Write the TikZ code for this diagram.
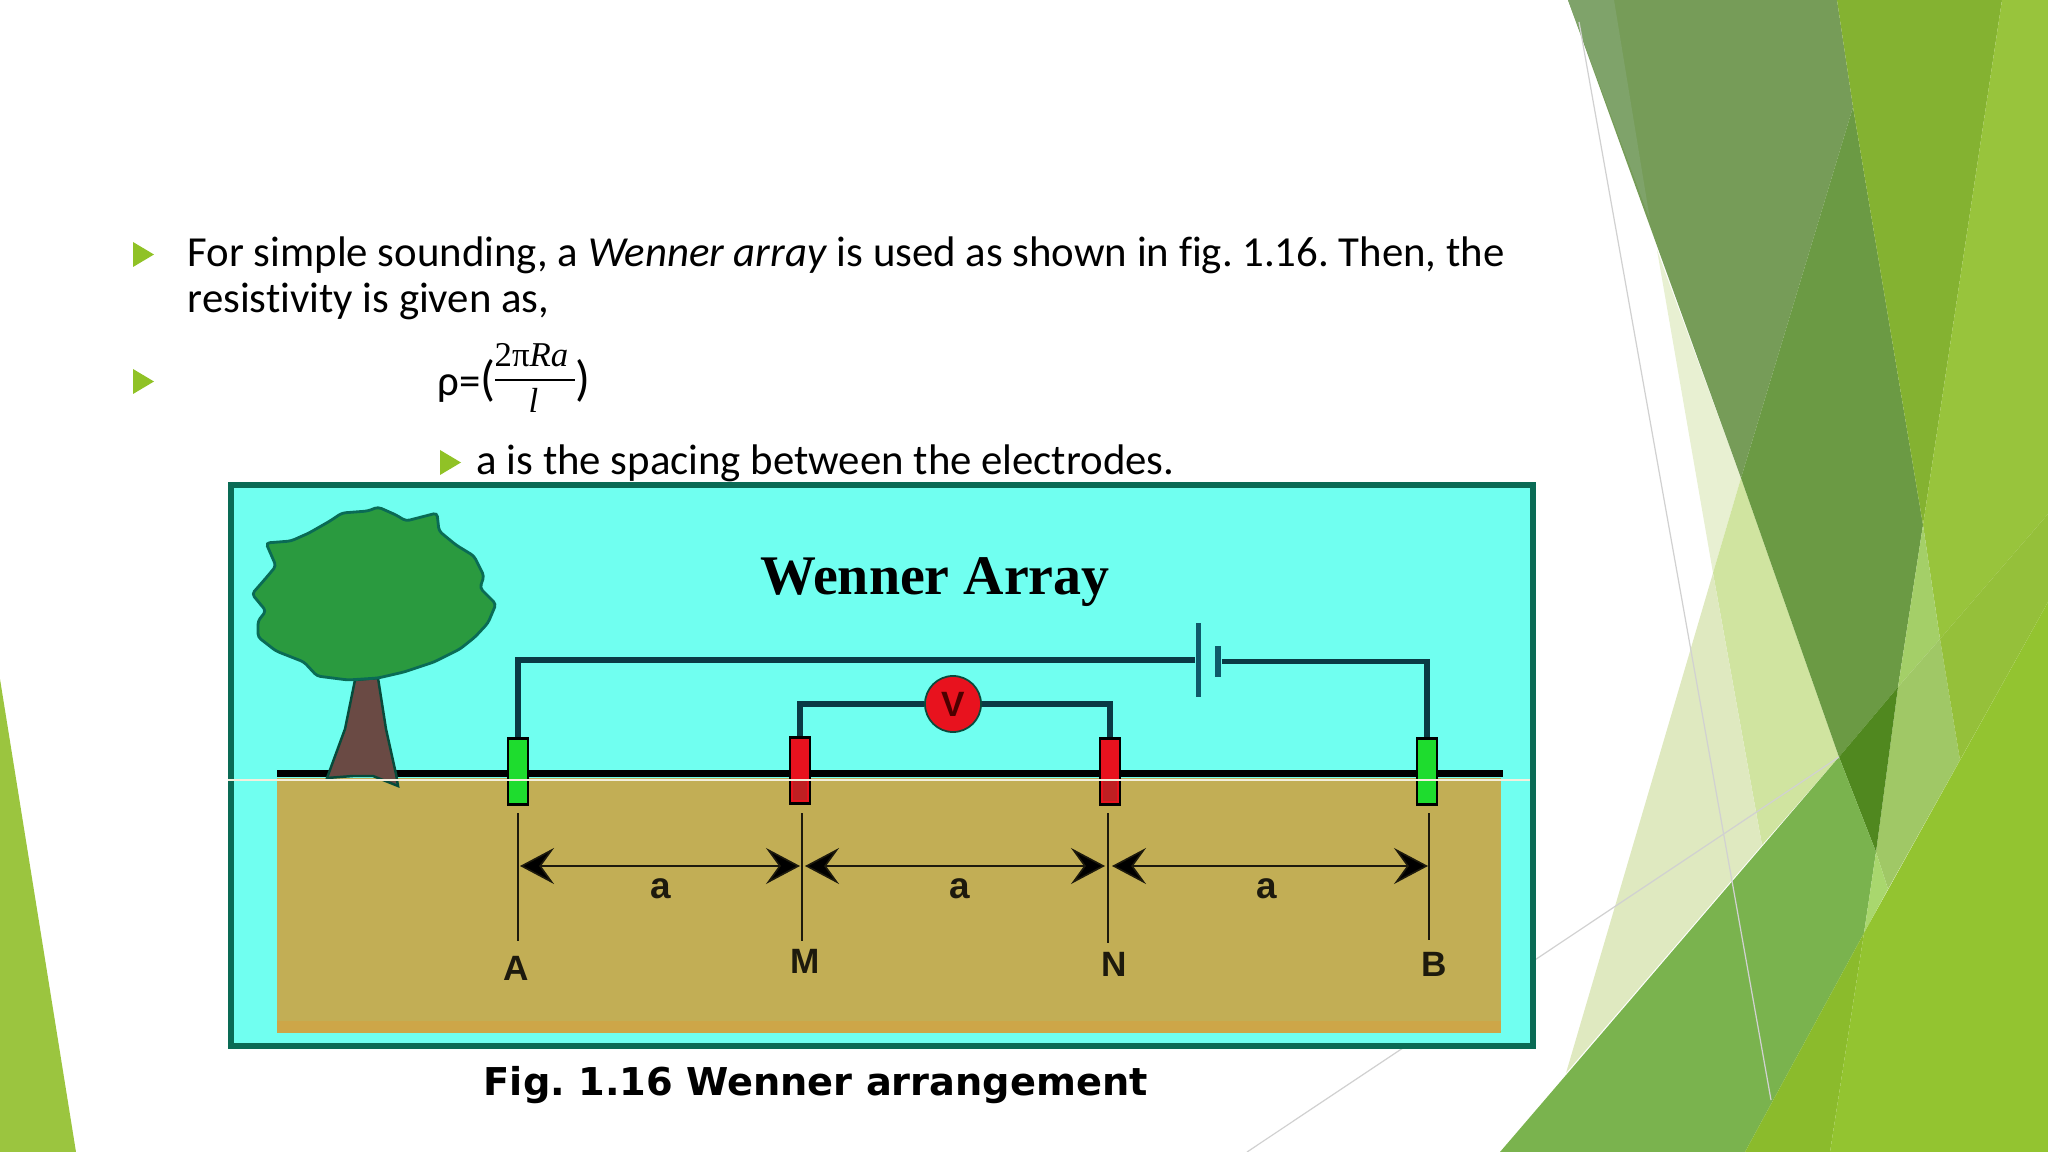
\documentclass[tikz,border=0pt]{standalone}
\usepackage{fontspec}
\usetikzlibrary{arrows.meta,positioning}
\setmainfont{Carlito}[Ligatures=CommonOff]
\newfontfamily\capfont{DejaVu Sans}
\newfontfamily\serfont{Liberation Serif}
\newfontfamily\labfont{Liberation Sans}

\definecolor{sky}{HTML}{70FFF0}
\definecolor{frameteal}{HTML}{0A6B55}
\definecolor{soil}{HTML}{C2AE55}
\definecolor{soilbase}{HTML}{CDA648}
\definecolor{wirecol}{HTML}{0A3A45}
\definecolor{platecol}{HTML}{0F5A6A}
\definecolor{leafcol}{HTML}{2A9A3F}
\definecolor{barkcol}{HTML}{6A4A44}
\definecolor{elecgreen}{HTML}{1EDC2E}
\definecolor{elecred}{HTML}{E8121E}
\definecolor{elecdark}{HTML}{BF1F22}
\definecolor{bullet}{HTML}{90C226}

\newcommand{\facet}[2]{\definecolor{facetcol}{HTML}{#1}\fill[facetcol] #2 -- cycle;}

\tikzset{
  body text/.style={anchor=base west,inner sep=0pt,font=\fontsize{12.17}{14}\selectfont},
  math text/.style={anchor=base west,inner sep=0pt,font=\serfont\fontsize{9.9}{11}\selectfont},
  marker/.style={fill=bullet,draw=none},
  wire/.style={draw=wirecol,line width=1.6pt},
  plate/.style={rectangle,fill=platecol,draw=none,inner sep=0pt},
  electrode/.style={rectangle,draw=black,line width=0.8pt,inner sep=0pt,minimum width=0.2cm,minimum height=0.66cm,anchor=north},
  dim line/.style={draw=black!85!soil,line width=0.45pt},
  span line/.style={dim line,<->,>={Stealth[length=3.4mm,width=3.6mm,inset=1.3mm,fill=black]}},
  dim label/.style={inner sep=0pt,font=\labfont\bfseries\fontsize{10}{11}\selectfont,text=black!85!soil},
  gap label/.style={dim label,font=\labfont\bfseries\fontsize{10.5}{11}\selectfont},
  thin rule/.style={draw=black!18,line width=0.35pt}
}

\begin{document}
\frenchspacing
\begin{tikzpicture}[x=0.01cm,y=-0.01cm]
	\useasboundingbox (0,0) rectangle (2048,1152);
	\clip (0,0) rectangle (2048,1152);

	% facets
	\facet{E8F0D2}{(1657,250) -- (1741,478) -- (1713,573)}
	\facet{D0E4A0}{(1713,573) -- (1741,478) -- (1839,757) -- (1762,845)}
	\facet{DFE9C0}{(1713,573) -- (1762,845) -- (1566,1073)}
	\facet{769C58}{(1568,0) -- (1837,0) -- (1853,107) -- (1741,478)}
	\facet{7FA36A}{(1568,0) -- (1614,0) -- (1650,220)}
	\facet{6B9A44}{(1853,107) -- (1923,525) -- (1898,687) -- (1839,757) -- (1741,478)}
	\facet{84B231}{(1837,0) -- (2002,0) -- (1923,525) -- (1853,107)}
	\facet{98C43C}{(2002,0) -- (2048,0) -- (2048,514) -- (1940,639) -- (1923,525)}
	\facet{A4CF68}{(1923,525) -- (1940,639) -- (1898,687)}
	\facet{A0C866}{(1898,687) -- (1940,639) -- (1960,760) -- (1888,889) -- (1876,852)}
	\facet{95C03A}{(1940,639) -- (2048,514) -- (2048,602) -- (1960,760)}
	\facet{50881F}{(1839,757) -- (1898,687) -- (1876,852)}
	\facet{7AB34E}{(1500,1152) -- (1839,757) -- (1876,852) -- (1864,933) -- (1745,1152)}
	\facet{A9D76E}{(1876,852) -- (1888,889) -- (1864,933)}
	\facet{8BBB2C}{(1745,1152) -- (1864,933) -- (1830,1152)}
	\facet{93C430}{(1864,933) -- (2048,602) -- (2048,1152) -- (1830,1152)}
	\facet{9BC53F}{(0,679) -- (76,1152) -- (0,1152)}
	\coordinate (ruleAa) at (1579,22);
	\coordinate (ruleAb) at (1771,1100);
	\coordinate (ruleBa) at (1247,1152);
	\coordinate (ruleBb) at (1839,757);
	\draw[thin rule] (ruleAa) -- (ruleAb);
	\draw[thin rule] (ruleBa) -- (ruleBb);

	% text
	\fill[marker] (133,242) -- (154,254.5) -- (133,267) -- cycle;
	\node[body text] (line1) at (187,267) {For simple sounding, a \textit{Wenner array} is used as shown in fig. 1.16. Then, the};
	\node[body text] (line2) at (187,313) {resistivity is given as,};
	\fill[marker] (133,369) -- (154,381.5) -- (133,394) -- cycle;
	\node[body text] (rho) at (437,396) {ρ=};
	\node[body text,font=\fontsize{14}{16}\selectfont] (open) at (480,396) {(};
	\node[math text] (num) at (494,367) {2π\textit{Ra}};
	\node[math text] (den) at (528,413) {\textit{l}};
	\node[body text,font=\fontsize{14}{16}\selectfont] (close) at (575,396) {)};
	\draw[line width=0.65pt] (495,380) -- (575,380);
	\fill[marker] (440,450) -- (461,462.5) -- (440,475) -- cycle;
	\node[body text] (line3) at (476,475) {a is the spacing between the electrodes.};

	% figure
	\draw[frameteal,fill=sky,line width=1.7pt] (231,485) rectangle (1533,1046);
	\fill[soil] (277,778) rectangle (1501,1033);
	\fill[soilbase] (277,1021) rectangle (1501,1033);
	\fill[black] (277,770) rectangle (1503,777);

	\node[inner sep=0pt,font=\serfont\bfseries\fontsize{15.9}{18}\selectfont] (title) at (935,582) {Wenner Array};

	% tree
	\draw[frameteal!70!black,fill=barkcol,line width=0.7pt] (355,680) -- (378,678) -- (386,729) -- (396,774) -- (398,786) -- (373,776) -- (353,776) -- (327,778) -- (345,729) -- cycle;
	\draw[frameteal,fill=leafcol,line width=0.8pt,rounded corners=1pt] (330,521) -- (342,513) -- (368,511) -- (378,507) -- (396,515) -- (406,521) -- (437,513) -- (439,531) -- (456,545) -- (474,556) -- (484,576) -- (480,588) -- (496,604) -- (488,623) -- (475,637) -- (460,649) -- (434,662) -- (404,672) -- (378,678) -- (348,680) -- (317,676) -- (304,662) -- (276,651) -- (258,637) -- (258,621) -- (266,611) -- (252,594) -- (266,578) -- (276,566) -- (266,543) -- (291,541) -- (309,533) -- cycle;

	% electrodes
	\node[electrode,fill=elecgreen] (elecA) at (518,737) {};
	\node[electrode,fill=elecred] (elecM) at (800,736) {};
	\node[electrode,fill=elecred] (elecN) at (1110,737) {};
	\node[electrode,fill=elecgreen] (elecB) at (1427,737) {};
	\fill[elecdark] (793,781) rectangle (807,800);
	\fill[elecdark] (1103,781) rectangle (1117,801);
	\draw[white!80!soil,line width=0.4pt] (228,780) -- (1530,780);

	% battery and voltmeter
	\node[plate,minimum width=0.05cm,minimum height=0.74cm] (plateL) at (1198,660) {};
	\node[plate,minimum width=0.06cm,minimum height=0.31cm] (plateR) at (1218,661.5) {};
	\node[circle,fill=elecred,draw=frameteal!70!black,line width=0.5pt,minimum size=0.56cm,inner sep=0pt,text=black!70!red,font=\labfont\bfseries\fontsize{10}{11}\selectfont] (volt) at (953,704) {V};
	\draw[wire] (elecA.north) |- (plateL.west);
	\draw[wire] (plateR.east) -| (elecB.north);
	\draw[wire] (elecM.north) |- (volt.west);
	\draw[wire] (volt.east) -| (elecN.north);

	% spacing marks
	\coordinate (topA) at (518,813);
	\coordinate (topM) at (802,813);
	\coordinate (topN) at (1108,813);
	\coordinate (topB) at (1429,813);
	\node[dim label] (labA) at (516,968) {A};
	\node[dim label] (labM) at (805,961) {M};
	\node[dim label] (labN) at (1114,964) {N};
	\node[dim label] (labB) at (1434,964) {B};
	\draw[dim line] (topA) -- (518,941);
	\draw[dim line] (topM) -- (802,941);
	\draw[dim line] (topN) -- (1108,943);
	\draw[dim line] (topB) -- (1429,940);
	\coordinate (spanA) at (520,866);
	\coordinate (spanMl) at (800,866);
	\coordinate (spanMr) at (805,866);
	\coordinate (spanNl) at (1105,866);
	\coordinate (spanNr) at (1112,866);
	\coordinate (spanB) at (1428,866);
	\draw[span line] (spanA) -- (spanMl);
	\draw[span line] (spanMr) -- (spanNl);
	\draw[span line] (spanNr) -- (spanB);
	\node[gap label] (gapA) at (661,889) {a};
	\node[gap label] (gapB) at (960,889) {a};
	\node[gap label] (gapC) at (1267,889) {a};

	\node[anchor=base west,inner sep=0pt,font=\capfont\bfseries\fontsize{10.9}{13}\selectfont] (caption) at (483,1095) {Fig. 1.16 Wenner arrangement};
\end{tikzpicture}
\end{document}
